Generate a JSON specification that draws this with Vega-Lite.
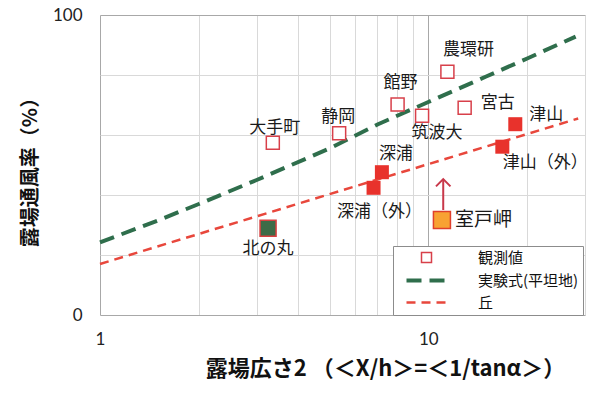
{
  "$schema": "https://vega.github.io/schema/vega-lite/v6.json",
  "width": 485,
  "height": 300,
  "autosize": {"type": "none"},
  "padding": {"left": 100, "top": 15, "right": 15, "bottom": 78},
  "background": "white",
  "config": {
    "view": {"stroke": null},
    "text": {"font": "Noto Sans CJK JP", "fontSize": 17, "color": "#1a1a1a"}
  },
  "datasets": {
    "pts": [
      {"name": "大手町", "x": 3.36, "y": 57.4, "kind": "観測値"},
      {"name": "静岡", "x": 5.35, "y": 60.6, "kind": "観測値"},
      {"name": "館野", "x": 8.06, "y": 70.2, "kind": "観測値"},
      {"name": "筑波大", "x": 9.57, "y": 66.4, "kind": "観測値"},
      {"name": "農環研", "x": 11.43, "y": 81.1, "kind": "観測値"},
      {"name": "宮古", "x": 12.9, "y": 69.1, "kind": "観測値"},
      {"name": "津山", "x": 18.4, "y": 63.6, "kind": "丘"},
      {"name": "津山（外）", "x": 16.8, "y": 56.1, "kind": "丘"},
      {"name": "深浦", "x": 7.22, "y": 47.6, "kind": "丘"},
      {"name": "深浦（外）", "x": 6.81, "y": 42.4, "kind": "丘"},
      {"name": "北の丸", "x": 3.25, "y": 28.9, "kind": "平坦地"},
      {"name": "室戸岬", "x": 11.0, "y": 31.7, "kind": "岬"}
    ],
    "curves": [
      {"curve": "実験式(平坦地)", "x": 1, "y": 24.2},
      {"curve": "実験式(平坦地)", "x": 1.5, "y": 31.5},
      {"curve": "実験式(平坦地)", "x": 2, "y": 37},
      {"curve": "実験式(平坦地)", "x": 3, "y": 45},
      {"curve": "実験式(平坦地)", "x": 5, "y": 55.5},
      {"curve": "実験式(平坦地)", "x": 7, "y": 63.5},
      {"curve": "実験式(平坦地)", "x": 10, "y": 71},
      {"curve": "実験式(平坦地)", "x": 15, "y": 79.5},
      {"curve": "実験式(平坦地)", "x": 20, "y": 85.5},
      {"curve": "実験式(平坦地)", "x": 28.1, "y": 92.8},
      {"curve": "丘", "x": 1, "y": 17},
      {"curve": "丘", "x": 28.6, "y": 65.5}
    ],
    "arrow": [
      {"x": 11.1, "y": 35, "y2": 45.3}
    ]
  },
  "layer": [
    {
      "data": {"name": "curves"},
      "transform": [{"filter": "datum.curve === '実験式(平坦地)'"}],
      "mark": {"type": "line", "strokeWidth": 4, "strokeDash": [15, 8], "strokeCap": "butt"},
      "encoding": {
        "x": {
          "field": "x", "type": "quantitative",
          "scale": {"type": "log", "domain": [1, 30], "nice": false},
          "axis": {
            "title": "露場広さ2 （＜X/h＞=＜1/tanα＞）",
            "values": [1, 2, 3, 4, 5, 6, 7, 8, 9, 10, 20, 30],
            "grid": true,
            "gridColor": {"condition": {"test": "datum.value == 1 || datum.value == 10", "value": "#a8a8a8"}, "value": "#d9d9d9"},
            "gridWidth": 1,
            "domain": false,
            "ticks": false,
            "tickSize": 0,
            "labelExpr": "datum.value == 1 || datum.value == 10 ? datum.label : ''",
            "labelFont": "Lato",
            "labelFontSize": 17,
            "labelColor": "#222",
            "labelPadding": 16,
            "labelFlush": false,
            "labelOverlap": false,
            "titleFont": "Noto Sans CJK JP",
            "titleFontSize": 22,
            "titleFontWeight": "bold",
            "titleColor": "#111",
            "titleX": 285,
            "titleY": 53,
            "titleBaseline": "middle",
            "titleAlign": "center"
          }
        },
        "y": {
          "field": "y", "type": "quantitative",
          "scale": {"domain": [0, 100], "nice": false},
          "axis": {
            "title": "露場通風率（%）",
            "values": [0, 10, 20, 30, 40, 50, 60, 70, 80, 90, 100],
            "grid": true,
            "gridColor": {"condition": {"test": "datum.value % 50 === 0", "value": "#a8a8a8"}, "value": "#d9d9d9"},
            "gridWidth": 1,
            "domain": false,
            "ticks": false,
            "tickSize": 0,
            "labelExpr": "datum.value % 50 === 0 ? datum.label : ''",
            "labelFont": "Lato",
            "labelFontSize": 17,
            "labelColor": "#222",
            "labelPadding": 18,
            "labelOverlap": false,
            "titleFont": "Noto Sans CJK JP",
            "titleFontSize": 20,
            "titleFontWeight": "bold",
            "titleColor": "#111",
            "titleX": -70,
            "titleY": 152,
            "titleBaseline": "middle",
            "titleAlign": "center"
          }
        },
        "color": {
          "datum": "実験式(平坦地)",
          "scale": {"domain": ["観測値", "実験式(平坦地)", "丘"], "range": ["#d8404a", "#2f6e4c", "#e8473c"]},
          "legend": {
            "title": null,
            "orient": "none",
            "legendX": 293,
            "legendY": 231,
            "strokeColor": "#8c8c8c",
            "fillColor": "white",
            "padding": 4,
            "rowPadding": 6,
            "symbolSize": 100,
            "symbolOffset": 22,
            "labelOffset": 44,
            "labelFont": "Noto Sans CJK JP",
            "labelFontSize": 15,
            "labelColor": "#111",
            "labelLimit": 300,
            "encode": {
              "symbols": {
                "update": {
                  "shape": {"signal": "datum.value === '観測値' ? 'square' : 'M-4,0H4'"},
                  "strokeDash": {"signal": "datum.value === '丘' ? [9, 6] : (datum.value === '観測値' ? [] : [15, 8])"},
                  "strokeWidth": {"signal": "datum.value === '観測値' ? 1.5 : (datum.value === '丘' ? 2.5 : 4)"},
                  "fill": {"value": "white"},
                  "fillOpacity": {"signal": "datum.value === '観測値' ? 1 : 0"},
                  "opacity": {"value": 1}
                }
              }
            }
          }
        }
      }
    },
    {
      "data": {"name": "curves"},
      "transform": [{"filter": "datum.curve === '丘'"}],
      "mark": {"type": "line", "strokeWidth": 2.5, "strokeDash": [9, 6], "strokeCap": "butt"},
      "encoding": {
        "x": {"field": "x", "type": "quantitative"},
        "y": {"field": "y", "type": "quantitative"},
        "color": {"datum": "丘"}
      }
    },
    {
      "data": {"name": "arrow"},
      "mark": {"type": "rule", "color": "#c8384a", "strokeWidth": 2},
      "encoding": {
        "x": {"field": "x", "type": "quantitative"},
        "y": {"field": "y", "type": "quantitative"},
        "y2": {"field": "y2"}
      }
    },
    {
      "data": {"name": "arrow"},
      "mark": {"type": "point", "shape": "M-1,1L0,0L1,1", "filled": false, "color": "#c8384a", "strokeWidth": 2, "size": 210, "opacity": 1},
      "encoding": {
        "x": {"field": "x", "type": "quantitative"},
        "y": {"field": "y2", "type": "quantitative"}
      }
    },
    {
      "data": {"name": "pts"},
      "transform": [{"filter": "datum.kind === '観測値'"}],
      "mark": {"type": "point", "shape": "square", "filled": false, "fill": "white", "fillOpacity": 1, "strokeWidth": 1.5, "size": 169, "opacity": 1},
      "encoding": {
        "x": {"field": "x", "type": "quantitative"},
        "y": {"field": "y", "type": "quantitative"},
        "color": {"datum": "観測値"}
      }
    },
    {
      "data": {"name": "pts"},
      "transform": [{"filter": "datum.kind === '丘'"}],
      "mark": {"type": "point", "shape": "square", "filled": true, "color": "#e8322c", "size": 196, "opacity": 1},
      "encoding": {
        "x": {"field": "x", "type": "quantitative"},
        "y": {"field": "y", "type": "quantitative"}
      }
    },
    {
      "data": {"name": "pts"},
      "transform": [{"filter": "datum.kind === '平坦地'"}],
      "mark": {"type": "point", "shape": "square", "filled": true, "fill": "#3d6b47", "stroke": "#d84040", "strokeWidth": 1.5, "size": 256, "opacity": 1},
      "encoding": {
        "x": {"field": "x", "type": "quantitative"},
        "y": {"field": "y", "type": "quantitative"}
      }
    },
    {
      "data": {"name": "pts"},
      "transform": [{"filter": "datum.kind === '岬'"}],
      "mark": {"type": "point", "shape": "square", "filled": true, "fill": "#f8a232", "stroke": "#e0402c", "strokeWidth": 1.5, "size": 289, "opacity": 1},
      "encoding": {
        "x": {"field": "x", "type": "quantitative"},
        "y": {"field": "y", "type": "quantitative"}
      }
    },
    {"data": {"name": "pts"}, "transform": [{"filter": "datum.name === '大手町'"}], "mark": {"type": "text", "dx": 2, "dy": -15}, "encoding": {"x": {"field": "x", "type": "quantitative"}, "y": {"field": "y", "type": "quantitative"}, "text": {"field": "name"}}},
    {"data": {"name": "pts"}, "transform": [{"filter": "datum.name === '静岡'"}], "mark": {"type": "text", "dx": -1, "dy": -16}, "encoding": {"x": {"field": "x", "type": "quantitative"}, "y": {"field": "y", "type": "quantitative"}, "text": {"field": "name"}}},
    {"data": {"name": "pts"}, "transform": [{"filter": "datum.name === '館野'"}], "mark": {"type": "text", "dx": 3, "dy": -21}, "encoding": {"x": {"field": "x", "type": "quantitative"}, "y": {"field": "y", "type": "quantitative"}, "text": {"field": "name"}}},
    {"data": {"name": "pts"}, "transform": [{"filter": "datum.name === '筑波大'"}], "mark": {"type": "text", "dx": 15, "dy": 17}, "encoding": {"x": {"field": "x", "type": "quantitative"}, "y": {"field": "y", "type": "quantitative"}, "text": {"field": "name"}}},
    {"data": {"name": "pts"}, "transform": [{"filter": "datum.name === '農環研'"}], "mark": {"type": "text", "dx": 21, "dy": -22}, "encoding": {"x": {"field": "x", "type": "quantitative"}, "y": {"field": "y", "type": "quantitative"}, "text": {"field": "name"}}},
    {"data": {"name": "pts"}, "transform": [{"filter": "datum.name === '宮古'"}], "mark": {"type": "text", "dx": 33, "dy": -5}, "encoding": {"x": {"field": "x", "type": "quantitative"}, "y": {"field": "y", "type": "quantitative"}, "text": {"field": "name"}}},
    {"data": {"name": "pts"}, "transform": [{"filter": "datum.name === '津山'"}], "mark": {"type": "text", "dx": 31, "dy": -9}, "encoding": {"x": {"field": "x", "type": "quantitative"}, "y": {"field": "y", "type": "quantitative"}, "text": {"field": "name"}}},
    {"data": {"name": "pts"}, "transform": [{"filter": "datum.name === '津山（外）'"}], "mark": {"type": "text", "dx": 43, "dy": 16}, "encoding": {"x": {"field": "x", "type": "quantitative"}, "y": {"field": "y", "type": "quantitative"}, "text": {"field": "name"}}},
    {"data": {"name": "pts"}, "transform": [{"filter": "datum.name === '深浦'"}], "mark": {"type": "text", "dx": 14, "dy": -18}, "encoding": {"x": {"field": "x", "type": "quantitative"}, "y": {"field": "y", "type": "quantitative"}, "text": {"field": "name"}}},
    {"data": {"name": "pts"}, "transform": [{"filter": "datum.name === '深浦（外）'"}], "mark": {"type": "text", "dx": 6, "dy": 24}, "encoding": {"x": {"field": "x", "type": "quantitative"}, "y": {"field": "y", "type": "quantitative"}, "text": {"field": "name"}}},
    {"data": {"name": "pts"}, "transform": [{"filter": "datum.name === '北の丸'"}], "mark": {"type": "text", "dx": 0, "dy": 21}, "encoding": {"x": {"field": "x", "type": "quantitative"}, "y": {"field": "y", "type": "quantitative"}, "text": {"field": "name"}}},
    {"data": {"name": "pts"}, "transform": [{"filter": "datum.name === '室戸岬'"}], "mark": {"type": "text", "dx": 13, "dy": 0, "align": "left", "fontSize": 19}, "encoding": {"x": {"field": "x", "type": "quantitative"}, "y": {"field": "y", "type": "quantitative"}, "text": {"field": "name"}}}
  ]
}
